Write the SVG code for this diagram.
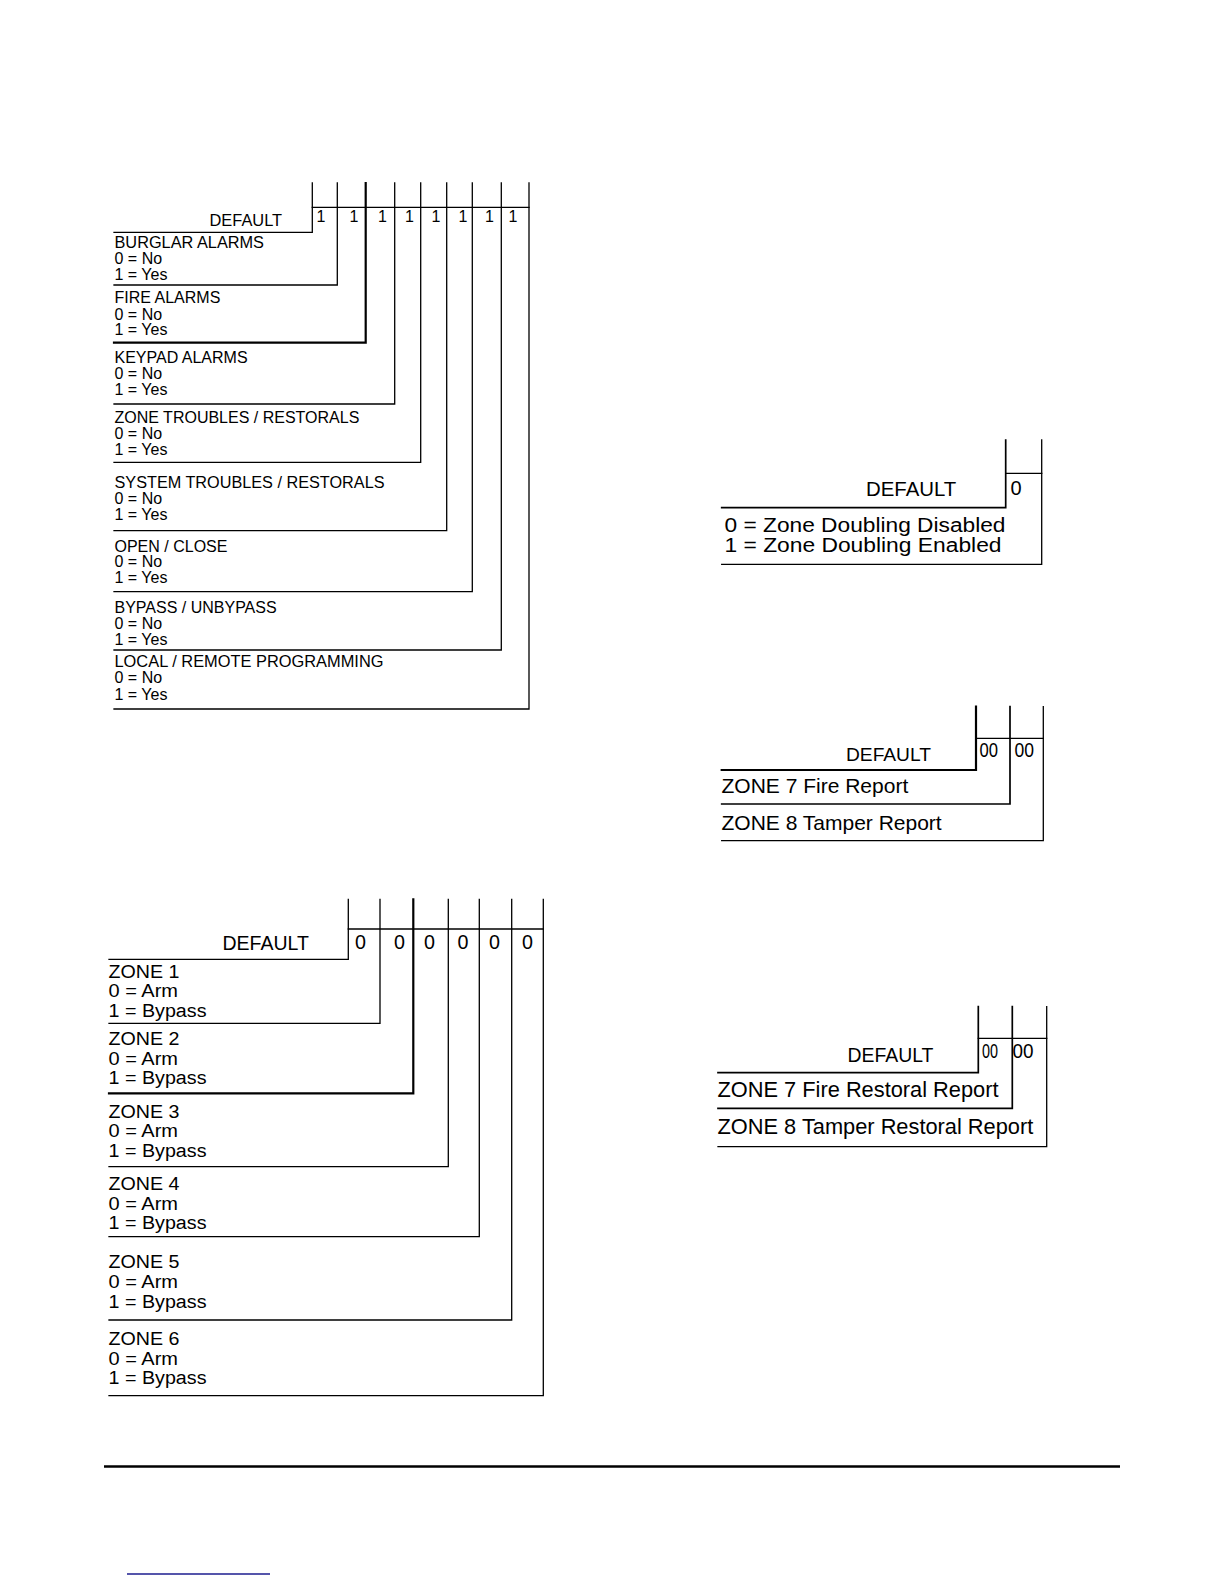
<svg xmlns="http://www.w3.org/2000/svg" width="1224" height="1584" viewBox="0 0 1224 1584">
<style>
.bg{fill:#ffffff}
.ln{fill:none;stroke:#000;stroke-width:1.3;stroke-linecap:square}
.tk{fill:none;stroke:#000;stroke-width:2.2;stroke-linecap:square}
.hl{fill:none;stroke:#000;stroke-width:1.7;stroke-linecap:square}
text{font-family:"Liberation Sans",Arial,sans-serif;fill:#000}
.t1{font-size:16px}
.t2{font-size:18px}
.t3{font-size:20px}
.t4{font-size:21px}
.t5{font-size:21.8px}
.dd{font-size:21px}
</style>
<rect class="bg" x="0" y="0" width="1224" height="1584"/>

<g id="alarm-reporting">
  <g id="connectors-1">
    <path class="ln" d="M312.3,207.3 H529"/>
    <path class="ln" d="M114,232.3 H312.3 V183"/>
    <path class="ln" d="M114,285 H337.3 V183"/>
    <path class="tk" d="M114,342.7 H365.7 V183"/>
    <path class="ln" d="M114,404 H394.7 V183"/>
    <path class="ln" d="M114,462.3 H420.7 V183"/>
    <path class="ln" d="M114,530.7 H446.7 V183"/>
    <path class="ln" d="M114,591.7 H472.3 V183"/>
    <path class="ln" d="M114,650 H501.3 V183"/>
    <path class="ln" d="M114,709 H529 V183"/>
  </g>
  <text x="209.5" y="226" style="font-size:16.4px">DEFAULT</text>
  <g class="t1">
    <text x="316.5" y="221.7">1</text>
    <text x="349.5" y="221.7">1</text>
    <text x="378" y="221.7">1</text>
    <text x="405" y="221.7">1</text>
    <text x="431.5" y="221.7">1</text>
    <text x="458.5" y="221.7">1</text>
    <text x="485" y="221.7">1</text>
    <text x="508.5" y="221.7">1</text>
  </g>
  <g id="opt-burglar" class="t1"><text x="114.5" y="247.7" textLength="149.5" lengthAdjust="spacingAndGlyphs">BURGLAR ALARMS</text><text x="114.5" y="263.9">0 = No</text><text x="114.5" y="279.7">1 = Yes</text></g>
  <g id="opt-fire" class="t1"><text x="114.5" y="303.3">FIRE ALARMS</text><text x="114.5" y="319.5">0 = No</text><text x="114.5" y="335.3">1 = Yes</text></g>
  <g id="opt-keypad" class="t1"><text x="114.5" y="363.3">KEYPAD ALARMS</text><text x="114.5" y="379.3">0 = No</text><text x="114.5" y="395.1">1 = Yes</text></g>
  <g id="opt-zone-troubles" class="t1"><text x="114.5" y="423.3">ZONE TROUBLES / RESTORALS</text><text x="114.5" y="439.3">0 = No</text><text x="114.5" y="455.1">1 = Yes</text></g>
  <g id="opt-system-troubles" class="t1"><text x="114.5" y="487.7" textLength="270" lengthAdjust="spacingAndGlyphs">SYSTEM TROUBLES / RESTORALS</text><text x="114.5" y="503.7">0 = No</text><text x="114.5" y="519.7">1 = Yes</text></g>
  <g id="opt-open-close" class="t1"><text x="114.5" y="551.7">OPEN / CLOSE</text><text x="114.5" y="567.3">0 = No</text><text x="114.5" y="583.3">1 = Yes</text></g>
  <g id="opt-bypass" class="t1"><text x="114.5" y="613.3">BYPASS / UNBYPASS</text><text x="114.5" y="629.3">0 = No</text><text x="114.5" y="645">1 = Yes</text></g>
  <g id="opt-local-remote" class="t1"><text x="114.5" y="666.7" textLength="269" lengthAdjust="spacingAndGlyphs">LOCAL / REMOTE PROGRAMMING</text><text x="114.5" y="683.3">0 = No</text><text x="114.5" y="699.5">1 = Yes</text></g>
</g>

<g id="zone-bypass">
  <g id="connectors-2">
    <path class="ln" d="M348.3,929 H543.3"/>
    <path class="ln" d="M109,959.3 H348.3 V899.3"/>
    <path class="ln" d="M109,1023.3 H380 V899.3"/>
    <path class="tk" d="M109,1093.3 H413.3 V899.3"/>
    <path class="ln" d="M109,1166.7 H448.3 V899.3"/>
    <path class="ln" d="M109,1236.7 H479.3 V899.3"/>
    <path class="ln" d="M109,1320 H511.7 V899.3"/>
    <path class="ln" d="M109,1395.7 H543.3 V899.3"/>
  </g>
  <text x="222.5" y="950" style="font-size:19.5px">DEFAULT</text>
  <g style="font-size:19.7px">
    <text x="355" y="949">0</text>
    <text x="394" y="949">0</text>
    <text x="424" y="949">0</text>
    <text x="457.5" y="949">0</text>
    <text x="489" y="949">0</text>
    <text x="522" y="949">0</text>
  </g>
  <g id="opt-zone1" class="t2"><text x="108.5" y="977.7" textLength="71" lengthAdjust="spacingAndGlyphs">ZONE 1</text><text x="108.5" y="997.4" textLength="69.5" lengthAdjust="spacingAndGlyphs">0 = Arm</text><text x="108.5" y="1017" textLength="98" lengthAdjust="spacingAndGlyphs">1 = Bypass</text></g>
  <g id="opt-zone2" class="t2"><text x="108.5" y="1045" textLength="71" lengthAdjust="spacingAndGlyphs">ZONE 2</text><text x="108.5" y="1064.7" textLength="69.5" lengthAdjust="spacingAndGlyphs">0 = Arm</text><text x="108.5" y="1084.3" textLength="98" lengthAdjust="spacingAndGlyphs">1 = Bypass</text></g>
  <g id="opt-zone3" class="t2"><text x="108.5" y="1117.7" textLength="71" lengthAdjust="spacingAndGlyphs">ZONE 3</text><text x="108.5" y="1137.4" textLength="69.5" lengthAdjust="spacingAndGlyphs">0 = Arm</text><text x="108.5" y="1157" textLength="98" lengthAdjust="spacingAndGlyphs">1 = Bypass</text></g>
  <g id="opt-zone4" class="t2"><text x="108.5" y="1190" textLength="71" lengthAdjust="spacingAndGlyphs">ZONE 4</text><text x="108.5" y="1209.7" textLength="69.5" lengthAdjust="spacingAndGlyphs">0 = Arm</text><text x="108.5" y="1229.3" textLength="98" lengthAdjust="spacingAndGlyphs">1 = Bypass</text></g>
  <g id="opt-zone5" class="t2"><text x="108.5" y="1268.3" textLength="71" lengthAdjust="spacingAndGlyphs">ZONE 5</text><text x="108.5" y="1288" textLength="69.5" lengthAdjust="spacingAndGlyphs">0 = Arm</text><text x="108.5" y="1307.6" textLength="98" lengthAdjust="spacingAndGlyphs">1 = Bypass</text></g>
  <g id="opt-zone6" class="t2"><text x="108.5" y="1345" textLength="71" lengthAdjust="spacingAndGlyphs">ZONE 6</text><text x="108.5" y="1364.7" textLength="69.5" lengthAdjust="spacingAndGlyphs">0 = Arm</text><text x="108.5" y="1384.3" textLength="98" lengthAdjust="spacingAndGlyphs">1 = Bypass</text></g>
</g>

<g id="zone-doubling">
  <g id="connectors-3">
    <path class="ln" d="M1005.7,473.3 H1041.7"/>
    <path class="hl" d="M721.7,507.7 H1005.7 V440"/>
    <path class="ln" d="M721.7,564.3 H1041.7 V440"/>
  </g>
  <text x="866" y="495.7" style="font-size:20.4px">DEFAULT</text>
  <text x="1010.5" y="495" style="font-size:20px">0</text>
  <text class="t3" x="724.5" y="531.7" textLength="281" lengthAdjust="spacingAndGlyphs">0 = Zone Doubling Disabled</text>
  <text class="t3" x="724.5" y="551.7" textLength="277" lengthAdjust="spacingAndGlyphs">1 = Zone Doubling Enabled</text>
</g>

<g id="zone-report-codes">
  <g id="connectors-4">
    <path class="ln" d="M976,738.3 H1043.3"/>
    <path class="tk" d="M721.7,770 H976 V706.7"/>
    <path class="hl" d="M721.7,804 H1010 V706.7"/>
    <path class="ln" d="M721.7,840.7 H1043.3 V706.7"/>
  </g>
  <text x="846" y="760.7" style="font-size:19.2px">DEFAULT</text>
  <text class="dd" x="979.5" y="756.7" textLength="18.5" lengthAdjust="spacingAndGlyphs">00</text>
  <text class="dd" x="1014.5" y="756.7" textLength="19.5" lengthAdjust="spacingAndGlyphs">00</text>
  <text class="t4" x="721.5" y="793.3">ZONE 7 Fire Report</text>
  <text class="t4" x="721.5" y="830">ZONE 8 Tamper Report</text>
</g>

<g id="zone-restoral-codes">
  <g id="connectors-5">
    <path class="ln" d="M978.3,1038.3 H1046.7"/>
    <path class="hl" d="M718,1072.7 H978.3 V1006.7"/>
    <path class="hl" d="M718,1108.3 H1012.3 V1006.7"/>
    <path class="ln" d="M718,1146.7 H1046.7 V1006.7"/>
  </g>
  <text x="847.5" y="1061.7" style="font-size:19.4px">DEFAULT</text>
  <text class="dd" x="982" y="1057.7" textLength="16" lengthAdjust="spacingAndGlyphs">00</text>
  <text class="dd" x="1012.5" y="1057.7" textLength="21" lengthAdjust="spacingAndGlyphs">00</text>
  <text class="t5" x="717.5" y="1096.7">ZONE 7 Fire Restoral Report</text>
  <text class="t5" x="717.5" y="1134">ZONE 8 Tamper Restoral Report</text>
</g>

<g id="footer">
  <line x1="104" y1="1466.5" x2="1120" y2="1466.5" stroke="#000" stroke-width="2.5"/>
  <line x1="127" y1="1574" x2="270" y2="1574" stroke="#1c1c8f" stroke-width="1.5"/>
</g>
</svg>
